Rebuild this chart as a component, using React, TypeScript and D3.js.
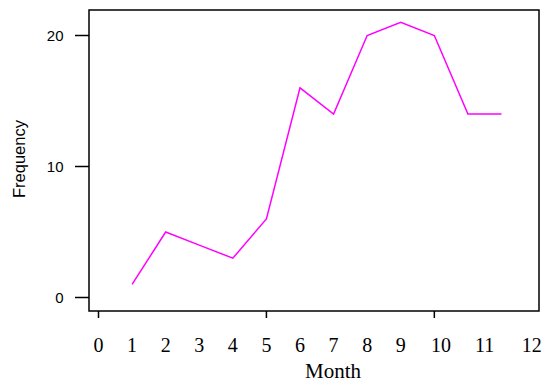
import React from "react";
import * as d3 from "d3";

const months = [1, 2, 3, 4, 5, 6, 7, 8, 9, 10, 11, 12];
const frequency = [1, 5, 4, 3, 6, 16, 14, 20, 21, 20, 14, 14];
const yTicks = [0, 10, 20];
const xTicks = [0, 5, 10];
const xLabels = ["0", "1", "2", "3", "4", "5", "6", "7", "8", "9", "10", "11", "12"];
const xLabelAt = [0, 1, 2, 3, 4, 5, 6, 7, 8, 9, 10.2, 11.5, 12.9];

export default function App() {
  const W = 544, H = 383;
  const box = { left: 89, right: 539, top: 10, bottom: 311 };
  const x = d3.scaleLinear().domain([0, 12]).range([98.5, 501.5]);
  const y = d3.scaleLinear().domain([0, 20]).range([297.5, 35.5]);
  const line = d3.line<number>().x((_, i) => x(months[i])).y((d) => y(d));
  return (
    <svg width={W} height={H} style={{ position: "absolute", left: 0, top: 0 }}>
      <rect x={0} y={0} width={W} height={H} fill="#fff" />
      <path d={line(frequency) || ""} fill="none" stroke="#ff00ff" strokeWidth={1.5} strokeLinejoin="miter" />
      <rect x={box.left} y={box.top} width={box.right - box.left} height={box.bottom - box.top} fill="none" stroke="#000" strokeWidth={1.5} />
      {yTicks.map((t) => (
        <g key={t}>
          <line x1={75} x2={box.left} y1={y(t)} y2={y(t)} stroke="#000" strokeWidth={1.5} />
          <text x={63.5} y={y(t)} dy="0.36em" textAnchor="end" fontFamily="Liberation Sans, Arial, sans-serif" fontSize={15}>{t}</text>
        </g>
      ))}
      {xTicks.map((t) => (
        <line key={t} x1={x(t)} x2={x(t)} y1={box.bottom} y2={318} stroke="#000" strokeWidth={1.5} />
      ))}
      {xLabels.map((l, i) => (
        <text key={l} x={x(xLabelAt[i])} y={352} textAnchor="middle" fontFamily="Liberation Serif, Times New Roman, serif" fontSize={20}>{l}</text>
      ))}
      <text x={333} y={378} textAnchor="middle" fontFamily="Liberation Serif, Times New Roman, serif" fontSize={21}>Month</text>
      <text transform="translate(25,159) rotate(-90)" textAnchor="middle" fontFamily="Liberation Sans, Arial, sans-serif" fontSize={16.5}>Frequency</text>
    </svg>
  );
}
